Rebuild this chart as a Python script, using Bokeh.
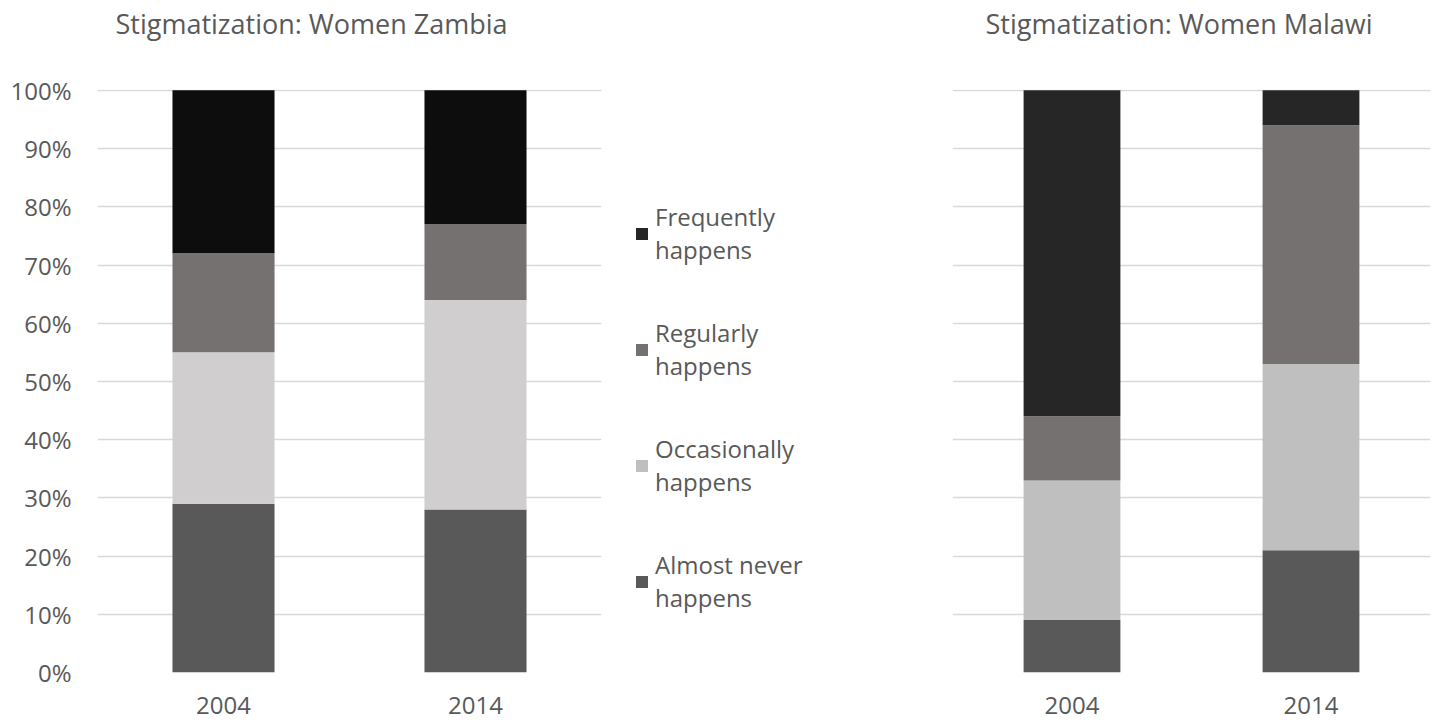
from bokeh.plotting import figure
from bokeh.models import (ColumnDataSource, Range1d, FactorRange, NumeralTickFormatter,
                          FixedTicker, Legend, LegendItem, Title)
from bokeh.layouts import row
from bokeh.embed import file_html
from bokeh.resources import INLINE

years = ["2004", "2014"]
categories = ["Almost never happens", "Occasionally happens", "Regularly happens", "Frequently happens"]
legend_labels = ["Almost never\nhappens", "Occasionally\nhappens", "Regularly\nhappens", "Frequently\nhappens"]

zambia_almost_never = [29, 28]
zambia_occasionally = [26, 36]
zambia_regularly = [17, 13]
zambia_frequently = [28, 23]

malawi_almost_never = [9, 21]
malawi_occasionally = [24, 32]
malawi_regularly = [11, 41]
malawi_frequently = [56, 6]

y_ticks = [0, 10, 20, 30, 40, 50, 60, 70, 80, 90, 100]

zambia_colors = ["#595959", "#d0cece", "#767171", "#0d0d0d"]
malawi_colors = ["#595959", "#bfbfbf", "#767171", "#262626"]

FONT = "Open Sans"
TXT = "#595959"
GRID = "#d9d9d9"


def make_source(a, b, c, d):
    return ColumnDataSource(dict(
        year=years,
        **{categories[0]: [v / 100 for v in a],
           categories[1]: [v / 100 for v in b],
           categories[2]: [v / 100 for v in c],
           categories[3]: [v / 100 for v in d]}))


def style(p, show_y):
    p.y_range = Range1d(0, 1.0015)
    p.yaxis.ticker = FixedTicker(ticks=[t / 100 for t in y_ticks])
    p.yaxis.formatter = NumeralTickFormatter(format="0%")
    p.xgrid.grid_line_color = None
    p.ygrid.grid_line_color = GRID
    p.ygrid.grid_line_width = 1.5
    p.outline_line_color = None
    for ax in (p.xaxis, p.yaxis):
        ax.axis_line_color = None
        ax.major_tick_line_color = None
        ax.minor_tick_line_color = None
        ax.major_label_text_font = FONT
        ax.major_label_text_font_size = "24px"
        ax.major_label_text_color = TXT
    p.xaxis.major_label_standoff = 18
    p.yaxis.major_label_standoff = 20
    if not show_y:
        p.yaxis.visible = False
    p.background_fill_color = "white"
    p.border_fill_color = "white"


def add_title(p, text, offset):
    # spacer nearest the frame, then the real title further up
    p.add_layout(Title(text=" ", text_font_size="2px", standoff=44), "above")
    p.add_layout(Title(text=text, align="left", offset=offset,
                       standoff=0, text_font=FONT, text_font_size="27px",
                       text_font_style="normal", text_color=TXT), "above")


H = 728
TOP = 89
FRAME_H = 583
BOTTOM = H - TOP - FRAME_H

# Zambia panel
zam = figure(x_range=FactorRange(*years), width=620, height=H, output_backend="svg",
             toolbar_location=None, min_border_left=97, min_border_right=19,
             min_border_top=TOP, min_border_bottom=BOTTOM)
style(zam, True)
add_title(zam, "Stigmatization: Women Zambia", 18)
zam.vbar_stack(categories, x="year", width=0.405, color=zambia_colors, line_color=None,
               source=make_source(zambia_almost_never, zambia_occasionally,
                                  zambia_regularly, zambia_frequently))

# Legend panel (shared legend, Malawi colours)
leg = figure(width=210, height=H, output_backend="svg", toolbar_location=None,
             x_range=FactorRange(*years), y_range=Range1d(0, 1),
             min_border=0)
leg.axis.visible = False
leg.grid.visible = False
leg.outline_line_color = None
leg_rs = leg.vbar_stack(categories, x="year", width=0.405, color=malawi_colors,
                        line_color=None,
                        source=make_source(malawi_almost_never, malawi_occasionally,
                                           malawi_regularly, malawi_frequently))
for r in leg_rs:
    r.visible = False
items = [LegendItem(label=legend_labels[i], renderers=[leg_rs[i]]) for i in range(3, -1, -1)]
legend = Legend(items=items, location=(14, 58), border_line_color=None,
                background_fill_alpha=0, label_text_font=FONT, label_text_font_size="24px",
                label_text_color=TXT,
                glyph_width=15, glyph_height=15, spacing=50,
                label_standoff=6, padding=0, margin=0,
                inactive_fill_alpha=0, click_policy="none")
leg.add_layout(legend, "center")

# Malawi panel
mal = figure(x_range=FactorRange(*years), width=604, height=H, output_backend="svg",
             toolbar_location=None, min_border_left=122, min_border_right=4,
             min_border_top=TOP, min_border_bottom=BOTTOM)
style(mal, False)
add_title(mal, "Stigmatization: Women Malawi", 33)
mal.vbar_stack(categories, x="year", width=0.405, color=malawi_colors, line_color=None,
               source=make_source(malawi_almost_never, malawi_occasionally,
                                  malawi_regularly, malawi_frequently))

p = row(zam, leg, mal)
open("out.html", "w").write(file_html(p, INLINE))
